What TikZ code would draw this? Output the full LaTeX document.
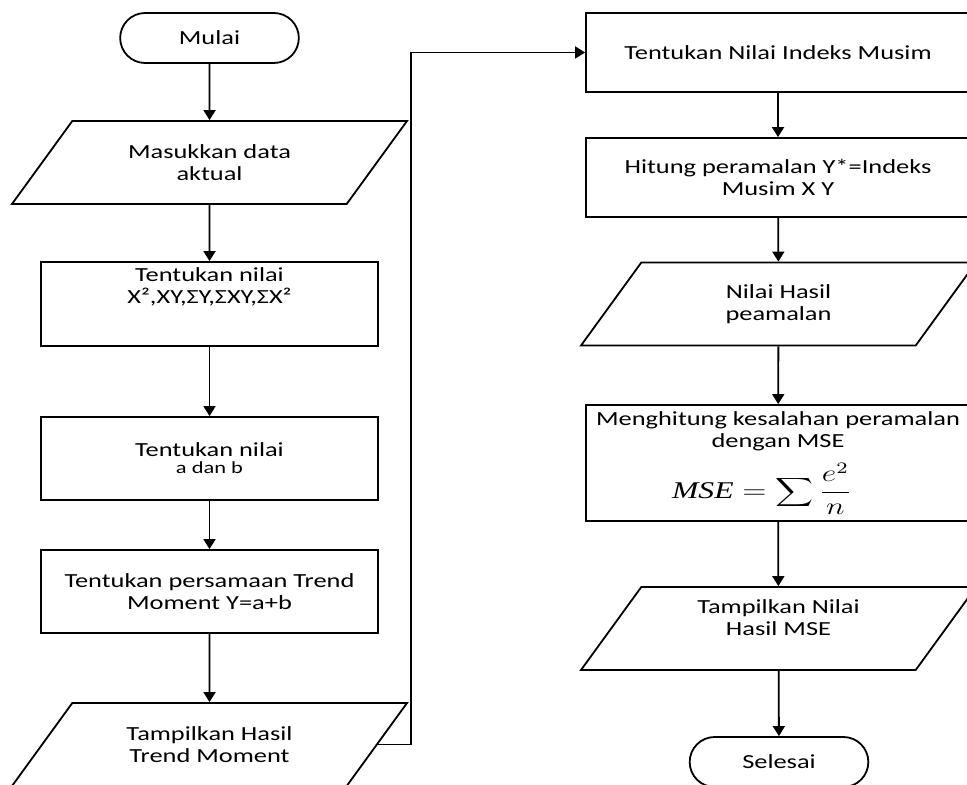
\documentclass[tikz,border=0pt]{standalone}
\usepackage{fontspec}
\setmainfont{Carlito}[FakeStretch=1.32]
\newfontfamily\eqfont{Liberation Serif}
\usepackage{graphicx}
\usetikzlibrary{arrows.meta,shapes.geometric,shapes.misc}
\tikzset{  term/.style={draw,rounded rectangle,minimum width=96pt,minimum height=25pt},
  proc/.style={draw,rectangle,align=center,inner sep=3pt,minimum width=168.5pt,minimum height=41.5pt},
  io/.style={draw,trapezium,trapezium left angle=54,trapezium right angle=126,trapezium stretches body,inner sep=3pt,minimum width=197.5pt} }
\newcommand{\isi}[3][c]{\parbox[c][#2][#1]{120pt}{\centering #3}}
\newcommand{\kecil}{\fontsize{8.5}{9}\selectfont}
\newcommand{\mse}{\scalebox{1.32}[1]{\fontsize{12}{14}\selectfont{\eqfont\itshape MSE}$\;=\displaystyle\sum\frac{e^{2}}{n}$}\hspace*{16pt}}

\begin{document}
\begin{tikzpicture}[x=0.5pt,y=-0.5pt,line width=0.9pt,>={Triangle[width=6pt,length=5pt]},->,font=\fontsize{10}{11}\selectfont]
  \useasboundingbox (0,0) rectangle (967,785);
  \clip (0,0) rectangle (967,785);
  \node[term] (mulai) at (209.5,38) {Mulai};
  \node[io] (data) at (209.5,162.5) {\isi{35.5pt}{Masukkan data\\aktual}};
  \node[proc] (nilai) at (209.5,304) {\isi[t]{36pt}{Tentukan nilai\\X²,XY,ΣY,ΣXY,ΣX²}};
  \node[proc] (ab) at (209.5,458.5) {Tentukan nilai\\[-2.5pt]{\kecil a dan b}};
  \node[proc] (trend) at (209.5,591.5) {Tentukan persamaan Trend\\Moment Y=a+b};
  \node[io] (hasil) at (209.5,744.5) {\isi{35.5pt}{Tampilkan Hasil\\Trend Moment}};
  \node[proc,minimum width=192pt,minimum height=39.5pt] (musim) at (778,52.5) {Tentukan Nilai Indeks Musim};
  \node[proc,minimum width=192pt,minimum height=39.5pt] (hitung) at (778,177.5) {Hitung peramalan Y*=Indeks\\Musim X Y};
  \node[io] (ramal) at (778.5,304) {\isi{35.5pt}{Nilai Hasil\\peamalan}};
  \node[proc,minimum width=192pt,minimum height=58pt] (mse) at (778,463) {Menghitung kesalahan peramalan\\dengan MSE\\[5pt]\mse};
  \node[io] (tampil) at (778.5,628.5) {\isi{35.5pt}{Tampilkan Nilai\\Hasil MSE\\\mbox{}}};
  \node[term] (selesai) at (779,762) {Selesai};
  \draw (mulai) -- (data);
  \draw (data) -- (nilai);
  \draw (nilai) -- (ab);
  \draw (ab) -- (trend);
  \draw (trend) -- (hasil);
  \draw (hasil.east) -- ++(33,0) |- (musim.west);
  \draw (musim) -- (hitung);
  \draw (hitung) -- (ramal);
  \draw (ramal) -- (mse);
  \draw (mse) -- (tampil);
  \draw (tampil) -- (selesai);
\end{tikzpicture}
\end{document}
